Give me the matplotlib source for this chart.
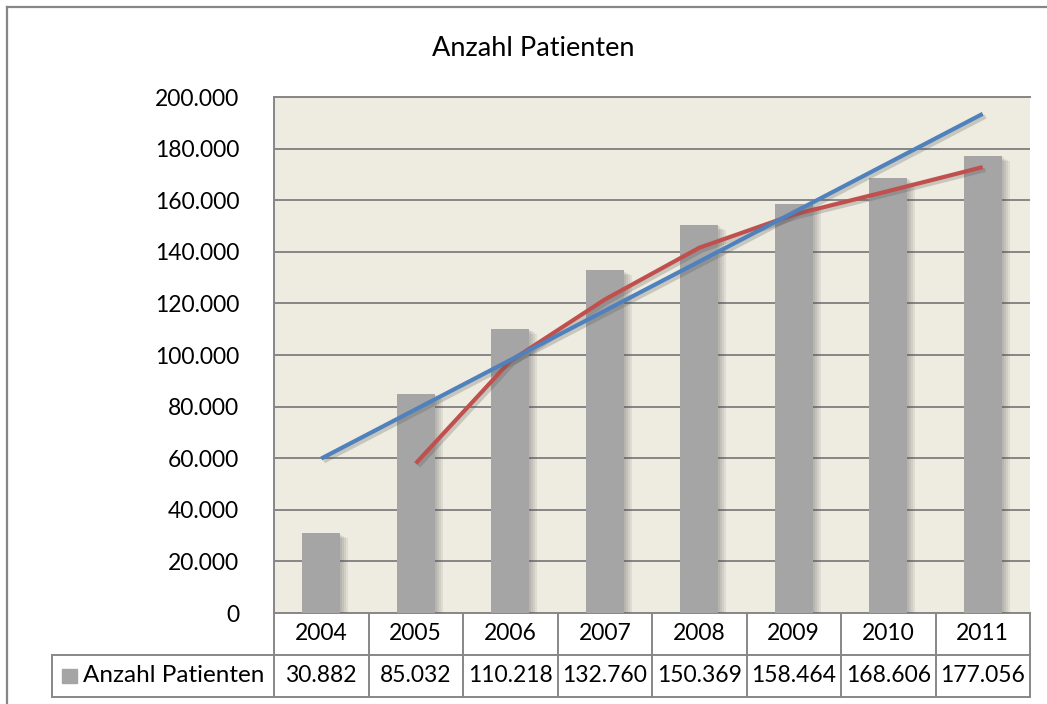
import matplotlib
matplotlib.use("Agg")
import matplotlib.pyplot as plt
import matplotlib.patheffects as pe
from matplotlib.transforms import blended_transform_factory
from matplotlib.patches import Rectangle
from matplotlib.lines import Line2D
from matplotlib.ticker import FuncFormatter

plt.rcParams["font.family"] = ["Lato", "DejaVu Sans"]

# data
years = ["2004", "2005", "2006", "2007", "2008", "2009", "2010", "2011"]
patients = [30882, 85032, 110218, 132760, 150369, 158464, 168606, 177056]
patient_labels = ["30.882", "85.032", "110.218", "132.760",
                  "150.369", "158.464", "168.606", "177.056"]
# red line: 2-period moving average (starts in 2005)
avg_years = ["2005", "2006", "2007", "2008", "2009", "2010", "2011"]
avg_values = [57957, 97625, 121489, 141564, 154416, 163535, 172831]
# blue line: linear trend, end points
trend_years = ["2004", "2011"]
trend_values = [59863, 193483]

W, H = 1047, 704
fig = plt.figure(figsize=(W / 100, H / 100), dpi=100)
fig.patch.set_facecolor("white")

# chart frame (only top and left visible)
fig.add_artist(Line2D([7 / W, 1.0], [1 - 7 / H, 1 - 7 / H], color="#868686", lw=1.6))
fig.add_artist(Line2D([7 / W, 7 / W], [0, 1 - 7 / H], color="#868686", lw=1.6))

left, right, top, bottom = 274, 1030, 97, 613
ax = fig.add_axes([left / W, 1 - bottom / H, (right - left) / W, (bottom - top) / H])
ax.set_facecolor("#EEECE1")

x = list(range(len(years)))
pos = {y: i for i, y in enumerate(years)}

# soft shadow: a few light offset copies
shadow = [pe.SimplePatchShadow(offset=(o, -o * 0.6), shadow_rgbFace="#555555", alpha=0.1)
          for o in (6, 4.5, 3, 1.5)] + [pe.Normal()]
ax.bar(x, patients, width=0.4, color="#A5A5A5", zorder=3, path_effects=shadow)

line_shadow = [pe.SimpleLineShadow(offset=(2, -2), shadow_color="#555555", alpha=0.25), pe.Normal()]
ax.plot([pos[y] for y in avg_years], avg_values, color="#C0504D", lw=3,
        solid_capstyle="butt", zorder=5, path_effects=line_shadow)
ax.plot([pos[y] for y in trend_years], trend_values, color="#4F81BD", lw=3,
        solid_capstyle="butt", zorder=6, path_effects=line_shadow)

ax.set_xlim(-0.5, len(years) - 0.5)
ax.set_ylim(0, 200000)
ax.set_yticks(range(0, 200001, 20000))
ax.yaxis.set_major_formatter(FuncFormatter(lambda v, p: f"{int(v):,}".replace(",", ".")))
ax.tick_params(axis="y", length=0, pad=25, labelsize=16.5)
ax.set_xticks([])
ax.grid(axis="y", color="#868686", lw=1.4, zorder=1)
ax.set_axisbelow(True)
for side in ["top", "left"]:
    ax.spines[side].set_color("#868686")
    ax.spines[side].set_linewidth(1.4)
for side in ["right", "bottom"]:
    ax.spines[side].set_visible(False)

fig.text(533 / W, 1 - 48 / H, "Anzahl Patienten", ha="center", va="center", fontsize=19.5)

# data table below the plot
tr = blended_transform_factory(ax.transData, ax.transAxes)
ph = bottom - top
row_h = 42 / ph
legend_left = -0.5 - (left - 52) / ((right - left) / len(years))
gcol = "#878787"

def hline(x0, x1, y):
    ax.add_line(Line2D([x0, x1], [y, y], transform=tr, color=gcol, lw=1.4, clip_on=False))

def vline(xv, y0, y1):
    ax.add_line(Line2D([xv, xv], [y0, y1], transform=tr, color=gcol, lw=1.4, clip_on=False))

n = len(years)
hline(-0.5, n - 0.5, 0)
hline(legend_left, n - 0.5, -row_h)
hline(legend_left, n - 0.5, -2 * row_h)
for i in range(n + 1):
    vline(i - 0.5, 0, -2 * row_h)
vline(legend_left, -row_h, -2 * row_h)

for i, (yr, lab) in enumerate(zip(years, patient_labels)):
    ax.text(i, -row_h / 2, yr, transform=tr, ha="center", va="center", fontsize=16.5)
    ax.text(i, -1.5 * row_h, lab, transform=tr, ha="center", va="center", fontsize=16.5)

ax.add_patch(Rectangle((legend_left + 0.11, -1.5 * row_h - 0.014), 0.15, 0.028,
                       transform=tr, color="#A5A5A5", clip_on=False))
ax.text(legend_left + 0.33, -1.5 * row_h, "Anzahl Patienten", transform=tr,
        ha="left", va="center", fontsize=17.5)

fig.savefig("out.png", dpi=100)
